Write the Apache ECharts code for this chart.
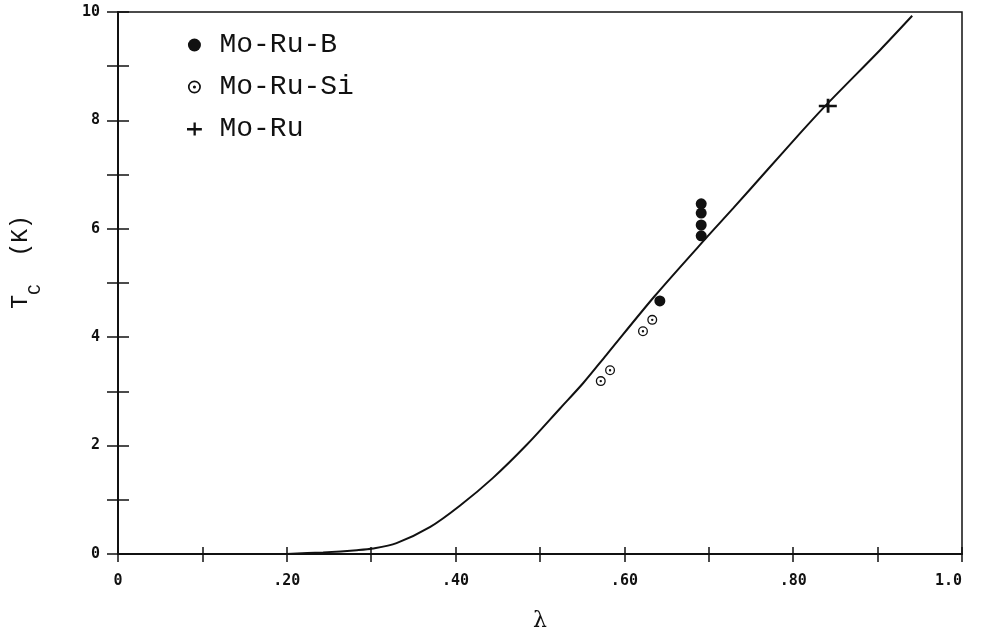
<!DOCTYPE html>
<html>
<head>
<meta charset="utf-8">
<script src="https://cdn.jsdelivr.net/npm/echarts@6/dist/echarts.min.js"></script>
<style>
  html, body { margin: 0; padding: 0; background: #fff; }
  #chart { width: 982px; height: 638px; }
</style>
</head>
<body>
<div id="chart"></div>
<script>
// values
const moRuB = [[0.642, 4.67], [0.691, 5.87], [0.691, 6.07], [0.691, 6.29], [0.691, 6.46]];
const moRuSi = [[0.572, 3.19], [0.583, 3.39], [0.622, 4.11], [0.633, 4.32]];
const moRu = [[0.841, 8.27]];

const curveX = [0.20, 0.243, 0.283, 0.302, 0.33, 0.37, 0.405, 0.444, 0.484, 0.524, 0.551, 0.579, 0.636, 0.698, 0.729, 0.769, 0.808, 0.840, 0.903, 0.941];
const curveY = [0.00, 0.03, 0.07, 0.10, 0.20, 0.50, 0.89, 1.40, 2.01, 2.69, 3.15, 3.68, 4.76, 5.85, 6.38, 7.08, 7.76, 8.30, 9.30, 9.93];

const xTickLabels = [[0, '0'], [0.2, '.20'], [0.4, '.40'], [0.6, '.60'], [0.8, '.80'], [1, '1.0']];
const yTickLabels = [[0, '0'], [2, '2'], [4, '4'], [6, '6'], [8, '8'], [10, '10']];

const INK = '#111';
const ringPath = 'path://M0,-10A10,10 0 1,1 0,10A10,10 0 1,1 0,-10Z' +
  'M0,-7.4A7.4,7.4 0 1,0 0,7.4A7.4,7.4 0 1,0 0,-7.4Z' +
  'M0,-2.4A2.4,2.4 0 1,1 0,2.4A2.4,2.4 0 1,1 0,-2.4Z';
const plusPath = 'path://M0,6L7,6L7,0L9.5,0L9.5,6L16,6L16,8.5L9.5,8.5L9.5,14L7,14L7,8.5L0,8.5Z';

function lookup(pairs, v) {
  const hit = pairs.find(p => Math.abs(p[0] - v) < 1e-6);
  return hit ? hit[1] : '';
}

const chart = echarts.init(document.getElementById('chart'), null, { renderer: 'canvas' });

const tickFont = { color: INK, fontFamily: 'DejaVu Sans Mono', fontWeight: 'bold', fontSize: 15 };

chart.setOption({
  backgroundColor: '#fff',
  animation: false,
  grid: { left: 118, right: 20, top: 12, bottom: 84, show: true, borderColor: INK, borderWidth: 1.5 },
  legend: {
    orient: 'vertical',
    left: 182,
    top: 26,
    itemGap: 14,
    itemWidth: 40,
    itemHeight: 13,
    data: ['Mo-Ru-B', 'Mo-Ru-Si', 'Mo-Ru'],
    textStyle: { color: INK, fontFamily: 'Liberation Mono', fontSize: 28 },
  },
  xAxis: [{
    type: 'value',
    min: 0, max: 1, interval: 0.1,
    name: 'λ',
    nameLocation: 'middle',
    nameGap: 56,
    nameTextStyle: { color: INK, fontFamily: 'DejaVu Serif', fontSize: 22 },
    axisLine: { lineStyle: { color: INK, width: 2 } },
    axisTick: { inside: false, length: 8, lineStyle: { color: INK, width: 1.5 } },
    axisLabel: { ...tickFont, margin: 20, alignMaxLabel: 'right', formatter: v => lookup(xTickLabels, v) },
    splitLine: { show: false },
  }, {
    type: 'value',
    position: 'bottom',
    min: 0, max: 1, interval: 0.1,
    axisLine: { show: false },
    axisTick: { inside: true, length: 7, lineStyle: { color: INK, width: 1.5 } },
    axisLabel: { show: false },
    splitLine: { show: false },
  }],
  yAxis: [{
    type: 'value',
    min: 0, max: 10, interval: 1,
    name: '{t|T}{s|C}{t|  (K)}',
    nameLocation: 'middle',
    nameGap: 74,
    nameTextStyle: {
      padding: [0, 0, 0, 42],
      rich: {
        t: { color: INK, fontFamily: 'Liberation Mono', fontSize: 23 },
        s: { color: INK, fontFamily: 'Liberation Mono', fontSize: 18, padding: [28, 0, 0, 0] },
      },
    },
    axisLine: { lineStyle: { color: INK, width: 2 } },
    axisTick: { inside: false, length: 11, lineStyle: { color: INK, width: 1.5 } },
    axisLabel: { ...tickFont, margin: 18, formatter: v => lookup(yTickLabels, v) },
    splitLine: { show: false },
  }, {
    type: 'value',
    position: 'left',
    min: 0, max: 10, interval: 1,
    axisLine: { show: false },
    axisTick: { inside: true, length: 11, lineStyle: { color: INK, width: 1.5 } },
    axisLabel: { show: false },
    splitLine: { show: false },
  }],
  series: [{
    type: 'line',
    name: 'curve',
    data: curveX.map((x, i) => [x, curveY[i]]),
    smooth: 0.3,
    showSymbol: false,
    lineStyle: { color: INK, width: 2 },
    z: 2,
  }, {
    type: 'scatter',
    name: 'Mo-Ru-B',
    data: moRuB,
    symbol: 'circle',
    symbolSize: 11,
    itemStyle: { color: INK, opacity: 1 },
    z: 3,
  }, {
    type: 'scatter',
    name: 'Mo-Ru-Si',
    data: moRuSi,
    symbol: ringPath,
    symbolSize: 10,
    itemStyle: { color: INK, opacity: 1 },
    z: 3,
  }, {
    type: 'scatter',
    name: 'Mo-Ru',
    data: moRu,
    symbol: plusPath,
    symbolSize: [18, 14],
    symbolKeepAspect: false,
    itemStyle: { color: INK, opacity: 1 },
    z: 3,
  }],
});
</script>
</body>
</html>
